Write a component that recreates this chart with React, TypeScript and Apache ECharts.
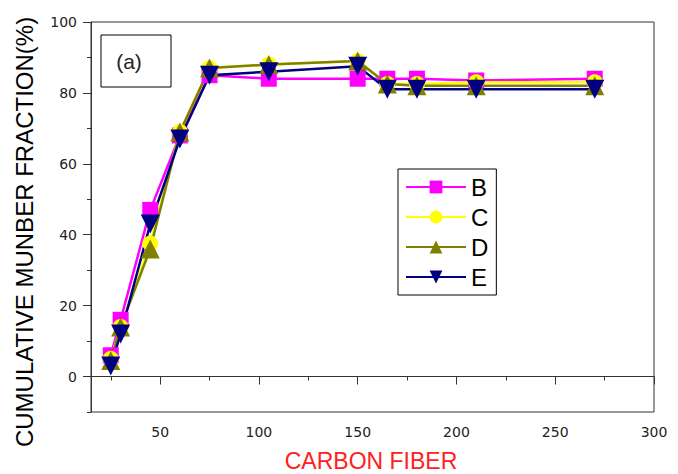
import React, { useEffect, useRef } from "react";
import * as echarts from "echarts";

const xValues = [25, 30, 45, 60, 75, 105, 150, 165, 180, 210, 270];
const seriesB = [6, 16, 47, 68, 85, 84, 84, 84, 84, 83.5, 84];
const seriesC = [5, 14, 37.5, 69, 87, 88, 89, 82.5, 82.5, 83, 83];
const seriesD = [4.5, 14, 36, 69, 87, 88, 89, 82.5, 82, 82, 82];
const seriesE = [3, 12, 43, 67, 85, 86, 87.5, 81, 81, 81, 81];

const seriesNames = ["B", "C", "D", "E"];
const seriesColors = ["#ff00ff", "#ffff00", "#808000", "#000080"];

const xMajorTicks = [50, 100, 150, 200, 250, 300];
const xMinorTicks = [25, 75, 125, 175, 225, 275];
const yMajorTicks = [0, 20, 40, 60, 80, 100];
const yMinorTicks = [-10, 10, 30, 50, 70, 90];

const DOWN_TRI = "path://M0,0 L10,0 L5,9 Z";

export default function App() {
  const ref = useRef<HTMLDivElement>(null);
  useEffect(() => {
    const chart = echarts.init(ref.current!, null, { renderer: "svg" });
    const pair = (ys: number[]) => xValues.map((x, i) => [x, ys[i]]);
    const allData = [seriesB, seriesC, seriesD, seriesE];
    const symbols = ["rect", "circle", "triangle", DOWN_TRI];
    const sizes = [16, 16, 19, 19];
    const axisLineStyle = { color: "#333", width: 1 };
    const tickFont = { fontSize: 14, fontFamily: "DejaVu Sans", color: "#222" };

    chart.setOption({
      animation: false,
      grid: {
        left: 91,
        top: 22,
        right: 24,
        bottom: 62,
        show: true,
        borderColor: "#333",
        borderWidth: 1,
        backgroundColor: "#fff",
      },
      xAxis: [
        {
          type: "value",
          min: 15,
          max: 300,
          position: "bottom",
          axisLine: { show: true, lineStyle: axisLineStyle },
          axisTick: { show: true, length: 8, customValues: xMajorTicks, lineStyle: axisLineStyle },
          axisLabel: { customValues: xMajorTicks, margin: 13, ...tickFont },
          splitLine: { show: false },
        },
        {
          type: "value",
          min: 15,
          max: 300,
          position: "bottom",
          axisLine: { show: false },
          axisTick: { show: true, length: 4, customValues: xMinorTicks, lineStyle: axisLineStyle },
          axisLabel: { show: false },
          splitLine: { show: false },
        },
      ],
      yAxis: [
        {
          type: "value",
          min: -10,
          max: 100,
          position: "left",
          axisLine: { show: true, lineStyle: axisLineStyle },
          axisTick: { show: true, length: 8, customValues: yMajorTicks, lineStyle: axisLineStyle },
          axisLabel: { customValues: yMajorTicks, margin: 14, ...tickFont },
          splitLine: { show: false },
        },
        {
          type: "value",
          min: -10,
          max: 100,
          position: "left",
          axisLine: { show: false },
          axisTick: { show: true, length: 4, customValues: yMinorTicks, lineStyle: axisLineStyle },
          axisLabel: { show: false },
          splitLine: { show: false },
        },
      ],
      legend: {
        data: seriesNames,
        orient: "vertical",
        left: 398,
        top: 169,
        itemWidth: 60,
        itemHeight: 16,
        itemGap: 6,
        padding: [6, 8, 6, 7],
        borderColor: "#000",
        borderWidth: 1,
        borderRadius: 0,
        backgroundColor: "#fff",
        textStyle: { fontSize: 24, fontFamily: "Liberation Sans", color: "#000" },
      },
      series: seriesNames.map((name, i) => ({
        name,
        type: "line",
        data: pair(allData[i]),
        symbol: symbols[i],
        symbolSize: sizes[i],
        showAllSymbol: true,
        itemStyle: { color: seriesColors[i] },
        lineStyle: { color: seriesColors[i], width: 2.5 },
        emphasis: { disabled: true },
      })),
      graphic: [
        {
          type: "rect",
          shape: { x: 101, y: 35, width: 70, height: 52 },
          style: { fill: "#fff", stroke: "#000", lineWidth: 1 },
          z: 10,
        },
        {
          type: "text",
          x: 129,
          y: 61,
          z: 11,
          style: {
            text: "(a)",
            fontSize: 21,
            fontFamily: "Liberation Sans",
            fill: "#222",
            textAlign: "center",
            textVerticalAlign: "middle",
          },
        },
        {
          type: "text",
          x: 24,
          y: 232,
          rotation: Math.PI / 2,
          style: {
            text: "CUMULATIVE MUNBER FRACTION(%)",
            fontSize: 24,
            fontFamily: "Liberation Sans",
            fill: "#000",
            textAlign: "center",
            textVerticalAlign: "middle",
          },
        },
        {
          type: "text",
          x: 371,
          y: 461,
          style: {
            text: "CARBON FIBER",
            fontSize: 23,
            fontFamily: "Liberation Sans",
            fill: "#ff2020",
            textAlign: "center",
            textVerticalAlign: "middle",
          },
        },
      ],
    });
    return () => chart.dispose();
  }, []);
  return (
    <div
      ref={ref}
      style={{ position: "fixed", left: 0, top: 0, width: 678, height: 474, background: "#fff" }}
    />
  );
}
